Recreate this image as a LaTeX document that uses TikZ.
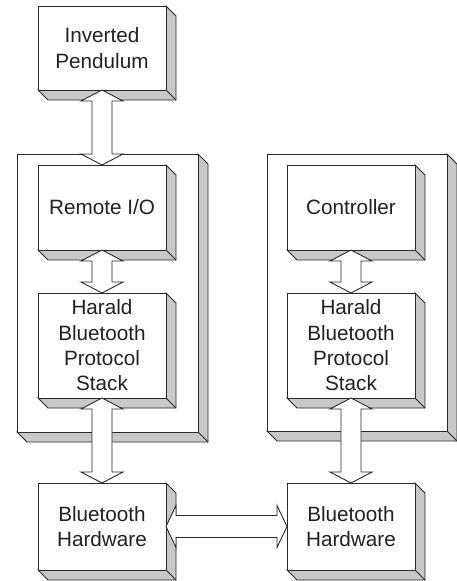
\documentclass[tikz,border=0pt]{standalone}
\usepackage{fontspec}
\setmainfont{Liberation Sans}
\usetikzlibrary{calc}
\definecolor{edgec}{HTML}{2A2A2A}
\definecolor{shadec}{HTML}{C8C8C8}
\definecolor{textc}{HTML}{222222}
\tikzset{
  edge/.style={draw=edgec, line width=0.9pt, line join=miter},
  shadowpart/.style={edge, fill=shadec},
  blk/.style={edge, fill=white, rectangle, inner sep=0pt, outer sep=0pt, align=center,
    text=textc, font=\fontsize{20.7}{25.3}\selectfont},
  fatarrow/.style={edge, fill=white},
}
% name, x0, y0, x1, y1, text
\newcommand{\dbox}[6]{%
  \filldraw[shadowpart] (#4,#3) -- (#4+10,#3+10) -- (#4+10,#5+10) -- (#2+10,#5+10) -- (#2,#5) -- (#4,#5) -- cycle;
  \draw[edge] (#4,#5) -- (#4+10,#5+10);
  \node[blk, minimum width={(#4-#2)*1pt}, minimum height={(#5-#3)*1pt}] (#1) at ({(#2+#4)/2},{(#3+#5)/2}) {#6};
}
% vertical double fat arrow from a.south to b.north
\newcommand{\vfat}[2]{%
  \filldraw[fatarrow] let \p1=(#1.south), \p2=(#2.north) in
    (\x1,\y1) -- (\x1-21pt,\y1-11pt) -- (\x1-10pt,\y1-11pt) -- (\x1-10pt,\y2+11pt) -- (\x1-21pt,\y2+11pt)
    -- (\x1,\y2) -- (\x1+21pt,\y2+11pt) -- (\x1+10pt,\y2+11pt) -- (\x1+10pt,\y1-11pt) -- (\x1+21pt,\y1-11pt) -- cycle;
}
% horizontal double fat arrow from a.east to b.west
\newcommand{\hfat}[2]{%
  \filldraw[fatarrow] let \p1=(#1.east), \p2=(#2.west) in
    (\x1,\y1) -- (\x1+10pt,\y1+21pt) -- (\x1+10pt,\y1+11pt) -- (\x2-10pt,\y1+11pt) -- (\x2-10pt,\y1+21pt)
    -- (\x2,\y1) -- (\x2-10pt,\y1-21pt) -- (\x2-10pt,\y1-11pt) -- (\x1+10pt,\y1-11pt) -- (\x1+10pt,\y1-21pt) -- cycle;
}
\begin{document}
\begin{tikzpicture}[x=1pt,y=-1pt]
\useasboundingbox (0,0) rectangle (456,581);
% outer frames
\dbox{outerL}{17}{154}{198}{432}{}
\dbox{outerR}{267}{154}{447}{431}{}
% boxes
\dbox{pend}{38}{6}{166}{90}{Inverted\\Pendulum}
\dbox{rio}{38}{165}{166}{250}{Remote I/O}
\dbox{haraldL}{38}{293}{166}{398}{Harald\\Bluetooth\\Protocol\\Stack}
\dbox{hwL}{38}{483}{166}{570}{Bluetooth\\Hardware}
\dbox{ctrl}{287}{165}{415}{250}{Controller}
\dbox{haraldR}{287}{293}{415}{398}{Harald\\Bluetooth\\Protocol\\Stack}
\dbox{hwR}{287}{483}{415}{570}{Bluetooth\\Hardware}
% arrows
\vfat{pend}{rio}
\vfat{rio}{haraldL}
\vfat{haraldL}{hwL}
\vfat{ctrl}{haraldR}
\vfat{haraldR}{hwR}
\hfat{hwL}{hwR}
\end{tikzpicture}
\end{document}
